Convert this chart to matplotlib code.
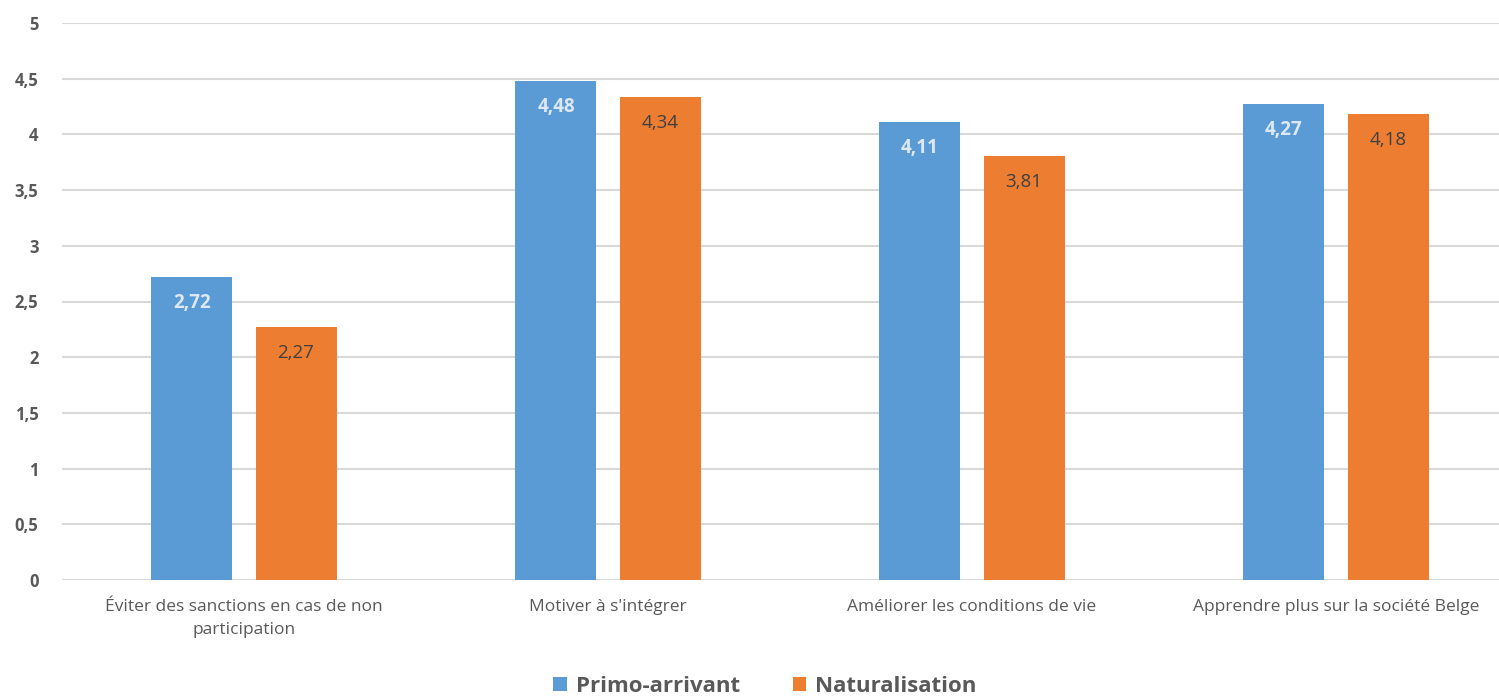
import matplotlib
matplotlib.use("Agg")
import matplotlib.pyplot as plt
import numpy as np

categories = ["Éviter des sanctions en cas de non\nparticipation",
              "Motiver à s'intégrer",
              "Améliorer les conditions de vie",
              "Apprendre plus sur la société Belge"]
primo = [2.72, 4.48, 4.11, 4.27]
natur = [2.27, 4.34, 3.81, 4.18]
yticks = [0, 0.5, 1, 1.5, 2, 2.5, 3, 3.5, 4, 4.5, 5]
series_names = ["Primo-arrivant", "Naturalisation"]

plt.rcParams['font.family'] = ['Open Sans', 'DejaVu Sans']

W, H = 1499, 698
fig = plt.figure(figsize=(W/100, H/100), dpi=100)
ax = fig.add_axes([62/W, 1-580/H, 1-62/W, (580-23)/H])

blue = "#5b9bd5"
orange = "#ed7d31"
x = np.arange(len(categories))
bw = 0.2225
off = 0.143
b1 = ax.bar(x - off, primo, bw, color=blue, label=series_names[0], zorder=3)
b2 = ax.bar(x + off, natur, bw, color=orange, label=series_names[1], zorder=3)

def fmt(v):
    return f"{v:.2f}".replace(".", ",")

for xi, v in zip(x, primo):
    ax.annotate(fmt(v), (xi - off, v), xytext=(0, -26), textcoords="offset pixels",
                ha="center", va="center", fontsize=13.5, fontweight="bold",
                color="#dde8f3", zorder=4)
for xi, v in zip(x, natur):
    ax.annotate(fmt(v), (xi + off, v), xytext=(0, -26), textcoords="offset pixels",
                ha="center", va="center", fontsize=13.5, color="#404040", zorder=4)

ax.set_xlim(-0.5, (W - 244) / 364)
ax.set_ylim(0, 5)
ax.set_yticks(yticks)
ax.set_yticklabels([str(t).replace(".", ",") if t % 1 else str(int(t)) for t in yticks],
                   fontsize=12, fontweight="bold", color="#595959")
ax.set_xticks(x)
ax.set_xticklabels(categories, fontsize=12.5, color="#595959", linespacing=1.55)
ax.tick_params(axis="both", length=0)
ax.tick_params(axis="y", pad=17)
ax.tick_params(axis="x", pad=14)
for s in ax.spines.values():
    s.set_visible(False)
ax.yaxis.grid(True, color="#d9d9d9", linewidth=1.5, zorder=0)
ax.set_axisbelow(True)

leg = fig.legend(handles=[b1, b2], labels=series_names, loc="center",
                 bbox_to_anchor=(765/W, 1-686/H), ncol=2, frameon=False,
                 handlelength=0.6, handleheight=0.6, handletextpad=0.4,
                 columnspacing=2.4,
                 prop={"size": 16, "weight": "bold"})
for t in leg.get_texts():
    t.set_color("#595959")

fig.savefig("out.png", dpi=100)
